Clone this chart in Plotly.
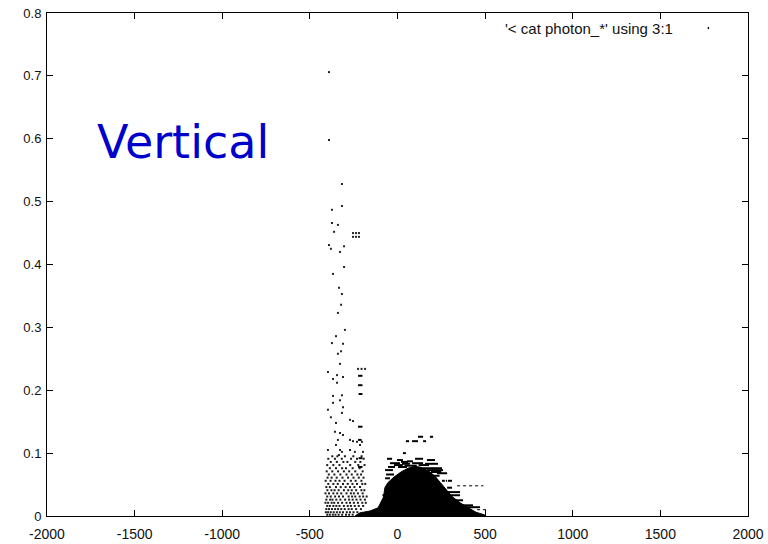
import plotly.graph_objects as go

# ---- data (x = column 3, y = column 1) ----
# sparse single points
sparse_x = [-391, -391, -317, -317, -374, -374, -340, -362, -391, -305, -380, -328, -305, -368,
            -334, -317, -322, -340, -300, -351, -374, -311, -322, -340, -328,
            -254, -237, -220, -254, -237, -220, -225, -205, -185,
            -397, -345, -311, -368, -345, -368, -317, -368, -328, -397, -311, -317, -271, -254,
            -351, -380, -357, -328, -311, -340, -271, -254, -231, -203, -351, -214, -397, -328,
            -317, -334, -271, -243, -197]
sparse_y = [0.706, 0.598, 0.528, 0.493, 0.487, 0.466, 0.463, 0.452, 0.431, 0.429, 0.425, 0.420, 0.396, 0.385,
            0.363, 0.353, 0.336, 0.323, 0.296, 0.286, 0.275, 0.274, 0.262, 0.258, 0.242,
            0.450, 0.450, 0.450, 0.444, 0.444, 0.444, 0.234, 0.234, 0.234,
            0.229, 0.224, 0.221, 0.218, 0.212, 0.191, 0.192, 0.180, 0.184, 0.169, 0.173, 0.164, 0.153, 0.151,
            0.148, 0.157, 0.134, 0.132, 0.129, 0.121, 0.121, 0.119, 0.118, 0.118, 0.113, 0.113, 0.105, 0.105,
            0.102, 0.097, 0.105, 0.102, 0.102]

# dense low cloud on the left (rows of points)
cloud_rows = {
    0.095: [-372, -343, -300, -252, -205],
    0.091: [-395, -357, -318, -265, -231, -193],
    0.086: [-381, -346, -309, -286, -241, -212],
    0.081: [-401, -366, -331, -270, -224, -188],
    0.076: [-386, -351, -316, -294, -256, -216],
    0.071: [-404, -372, -339, -306, -276, -241, -199],
    0.066: [-392, -360, -326, -291, -261, -229, -208],
    0.061: [-399, -376, -347, -314, -282, -251, -221, -194],
    0.056: [-410, -382, -354, -331, -302, -266, -239, -206],
    0.051: [-395, -366, -341, -311, -284, -257, -231, -201, -184],
    0.046: [-406, -386, -351, -324, -296, -271, -246, -214],
    0.041: [-400, -377, -359, -336, -306, -281, -261, -236, -206, -189],
    0.036: [-411, -391, -366, -344, -321, -291, -266, -249, -226, -199],
    0.031: [-401, -381, -356, -334, -311, -279, -259, -241, -216, -196, -176],
    0.026: [-406, -384, -371, -349, -326, -299, -276, -256, -234, -211, -186],
    0.021: [-411, -396, -376, -361, -339, -316, -291, -271, -249, -226, -201, -181],
    0.016: [-401, -386, -366, -349, -331, -306, -284, -266, -244, -221, -196],
    0.011: [-406, -391, -374, -356, -339, -321, -301, -279, -261, -236, -209],
    0.006: [-409, -396, -381, -364, -346, -329, -311, -289, -271, -251, -229],
    0.002: [-401, -386, -369, -354, -336, -316, -294, -276, -256],
}

# horizontal runs of points (x from, x to, y)
dash_x0 = [117, 185, 48, 83, 146, 31, -60, -3, 54, 100, 168, -43, 26, 83, 157, -54, 3, 71, 146,
           -71, 168, 225, 254, 276, 288, 283, 283, 290, 317, 340, 374,
           -225, -225, -222, -225, -225, -222, -225, -71, -86, -20, 40, 120, 190, -65, 20, 200]
dash_x1 = [146, 203, 66, 117, 163, 48, -31, 31, 88, 146, 214, 14, 71, 146, 231, -14, 54, 128, 254,
           -26, 260, 283, 270, 283, 311, 311, 357, 357, 374, 431, 471,
           -200, -200, -200, -200, -205, -200, -200, -43, -54, 30, 110, 180, 250, -20, 60, 240]
dash_y = [0.126, 0.126, 0.119, 0.119, 0.119, 0.100, 0.091, 0.089, 0.087, 0.091, 0.089, 0.084, 0.083, 0.084, 0.083,
          0.078, 0.078, 0.076, 0.076, 0.073, 0.073, 0.068, 0.056, 0.056, 0.056, 0.045, 0.038, 0.033, 0.025, 0.017, 0.014,
          0.223, 0.208, 0.194, 0.142, 0.121, 0.092, 0.078, 0.060, 0.033, 0.081, 0.080, 0.081, 0.070,
          0.066, 0.086, 0.064]

# dotted runs
dot_x0 = [340, 454]
dot_x1 = [490, 511]
dot_y = [0.048, 0.010]

# outline of the solid dense region
blob_x = [-243, -214, -157, -111, -80, -72, -55, -20, 20, 60, 100, 140, 180, 215, 245, 277, 311, 357, 402, 448, 494, 505]
blob_y = [0, 0.005, 0.008, 0.013, 0.030, 0.045, 0.053, 0.062, 0.070, 0.076, 0.079, 0.077, 0.071, 0.063,
          0.053, 0.042, 0.031, 0.021, 0.013, 0.006, 0.002, 0]

x_ticks = [-2000, -1500, -1000, -500, 0, 500, 1000, 1500, 2000]
y_ticks = [0, 0.1, 0.2, 0.3, 0.4, 0.5, 0.6, 0.7, 0.8]
legend_label = "'< cat photon_*' using 3:1"
title_text = "Vertical"

# ---- figure ----
fig = go.Figure()

fig.add_trace(go.Scatter(x=blob_x, y=blob_y, mode="lines", fill="toself",
                         fillcolor="black", line=dict(color="black", width=1),
                         hoverinfo="skip", showlegend=False))

lx, ly = [], []
for a, b, y in zip(dash_x0, dash_x1, dash_y):
    lx += [a, b, None]
    ly += [y, y, None]
fig.add_trace(go.Scatter(x=lx, y=ly, mode="lines", line=dict(color="black", width=2),
                         hoverinfo="skip", showlegend=False))

dx, dy = [], []
for a, b, y in zip(dot_x0, dot_x1, dot_y):
    dx += [a, b, None]
    dy += [y, y, None]
fig.add_trace(go.Scatter(x=dx, y=dy, mode="lines", line=dict(color="black", width=1, dash="dot"),
                         hoverinfo="skip", showlegend=False))

cx, cy = [], []
for y, xs in cloud_rows.items():
    for x in xs:
        cx.append(x)
        cy.append(y)
fig.add_trace(go.Scatter(x=cx, y=cy, mode="markers",
                         marker=dict(symbol="square", size=2, color="#1a1a1a", line=dict(width=0)),
                         showlegend=False))
fig.add_trace(go.Scatter(x=sparse_x, y=sparse_y, mode="markers",
                         marker=dict(symbol="square", size=2, color="#222", line=dict(width=0)),
                         showlegend=False))

axis_common = dict(showline=True, linecolor="black", linewidth=1, mirror="ticks",
                   ticks="inside", ticklen=6, tickcolor="black", showgrid=False, zeroline=False,
                   automargin=False)
fig.update_xaxes(range=[-2000, 2000], tickvals=x_ticks, ticktext=[str(v) for v in x_ticks],
                 ticklabelstandoff=5,
                 tickfont=dict(family="Liberation Sans, Arial", size=14, color="#111"), **axis_common)
fig.update_yaxes(range=[0, 0.8], tickvals=y_ticks, ticktext=[f"{v:g}" for v in y_ticks],
                 ticklabelstandoff=2,
                 tickfont=dict(family="Liberation Sans, Arial", size=13, color="#111"), **axis_common)

fig.add_annotation(x=0.896, y=0.970, xref="paper", yref="paper", xanchor="right", yanchor="middle",
                   text=legend_label, showarrow=False,
                   font=dict(family="Liberation Sans, Arial", size=15, color="#111"))
fig.add_shape(type="rect", xref="paper", yref="paper", x0=0.9425, x1=0.9445, y0=0.968, y1=0.972,
              fillcolor="black", line=dict(width=0))
fig.add_annotation(x=-1726, y=0.595, xanchor="left", yanchor="middle", text=title_text, showarrow=False,
                   font=dict(family="DejaVu Sans", size=46, color="#0000cc"))

fig.update_layout(width=768, height=544, margin=dict(l=47, r=20, t=13, b=28),
                  paper_bgcolor="white", plot_bgcolor="white")

fig.write_html("out.html")
